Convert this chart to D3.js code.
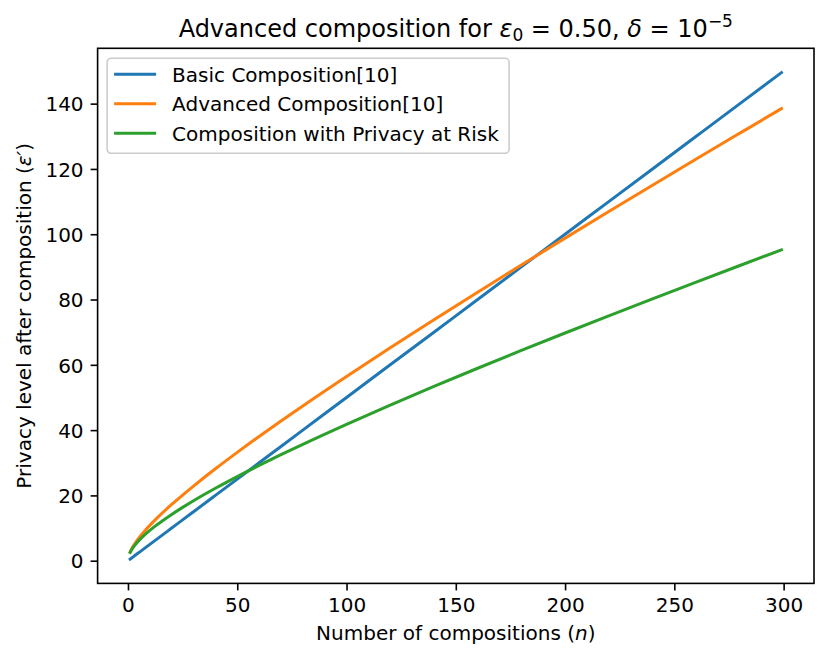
<!DOCTYPE html>
<html>
<head>
<meta charset="utf-8">
<script src="https://cdn.jsdelivr.net/npm/d3@7"></script>
<style>
  body { margin: 0; background: #fff; }
  svg text { font-family: "DejaVu Sans", sans-serif; fill: #000; }
</style>
</head>
<body>
<div id="chart"></div>
<script>
  var compositions = [1, 2, 3, 5, 8, 12, 16, 20, 25, 30, 40, 50, 60, 70, 80, 100,
    120, 140, 160, 180, 200, 220, 240, 260, 280, 299];

  var basicValues = [0.5, 1.0, 1.5, 2.5, 4.0, 6.0, 8.0, 10.0, 12.5, 15.0, 20.0, 25.0, 30.0, 35.0, 40.0, 50.0,
    60.0, 70.0, 80.0, 90.0, 100.0, 110.0, 120.0, 130.0, 140.0, 149.5];

  var advancedValues = [2.72, 4.04, 5.13, 6.99, 9.38, 12.20, 14.79, 17.22, 20.11, 22.87, 28.15, 33.18, 38.05, 42.78, 47.41, 56.43,
    65.21, 73.80, 82.25, 90.58, 98.81, 106.95, 115.02, 123.03, 130.97, 138.48];

  var riskValues = [2.54, 3.70, 4.63, 6.18, 8.13, 10.35, 12.34, 14.19, 16.34, 18.38, 22.19, 25.77, 29.19, 32.47, 35.65, 41.78,
    47.67, 53.38, 58.95, 64.40, 69.75, 75.01, 80.21, 85.34, 90.42, 95.19];

  var seriesNames = ['Basic Composition[10]', 'Advanced Composition[10]', 'Composition with Privacy at Risk'];
  var seriesColors = ['#1f77b4', '#ff7f0e', '#2ca02c'];
  var xTicks = [0, 50, 100, 150, 200, 250, 300];
  var yTicks = [0, 20, 40, 60, 80, 100, 120, 140];

  var WIDTH = 830;
  var HEIGHT = 662;
  var MARGIN = { TOP: 48.3, RIGHT: 16, BOTTOM: 78.6, LEFT: 97.6 };
  var FONT = 20;
  var width = WIDTH - MARGIN.LEFT - MARGIN.RIGHT;
  var height = HEIGHT - MARGIN.TOP - MARGIN.BOTTOM;

  var series = [basicValues, advancedValues, riskValues].map(function(vals, i) {
    return {
      name: seriesNames[i],
      color: seriesColors[i],
      points: compositions.map(function(n, j) { return { x: n, y: vals[j] }; })
    };
  });

  // matplotlib style 5% padding round the data
  var xMin = d3.min(compositions), xMax = d3.max(compositions);
  var xPad = (xMax - xMin) * 0.05;
  var yMin = d3.min(basicValues), yMax = d3.max(basicValues);
  var yPad = (yMax - yMin) * 0.05;

  var x = d3.scaleLinear().domain([xMin - xPad, xMax + xPad]).range([0, width]);
  var y = d3.scaleLinear().domain([yMin - yPad, yMax + yPad]).range([height, 0]);

  var svg = d3.select('#chart').append('svg')
    .attr('width', WIDTH)
    .attr('height', HEIGHT);

  var g = svg.append('g')
    .attr('transform', 'translate(' + MARGIN.LEFT + ',' + MARGIN.TOP + ')');

  var line = d3.line()
    .x(function(d) { return x(d.x); })
    .y(function(d) { return y(d.y); })
    .curve(d3.curveMonotoneX);

  g.selectAll('.series')
    .data(series)
    .enter().append('path')
    .attr('class', 'series')
    .attr('d', function(d) { return line(d.points); })
    .attr('fill', 'none')
    .attr('stroke', function(d) { return d.color; })
    .attr('stroke-width', 3)
    .attr('stroke-linecap', 'square');

  var xAxis = d3.axisBottom(x).tickValues(xTicks).tickSize(7).tickPadding(7);
  var yAxis = d3.axisLeft(y).tickValues(yTicks).tickSize(7).tickPadding(7);

  var gx = g.append('g')
    .attr('transform', 'translate(0,' + height + ')')
    .call(xAxis);
  var gy = g.append('g').call(yAxis);

  [gx, gy].forEach(function(ax) {
    ax.select('.domain').remove();
    ax.selectAll('.tick line').attr('stroke', '#000').attr('stroke-width', 1.6);
    ax.selectAll('.tick text')
      .style('font-family', '"DejaVu Sans", sans-serif')
      .style('font-size', FONT + 'px')
      .attr('fill', '#000');
  });
  gy.selectAll('.tick text').attr('dy', '0.36em');

  // frame
  g.append('rect')
    .attr('width', width)
    .attr('height', height)
    .attr('fill', 'none')
    .attr('stroke', '#000')
    .attr('stroke-width', 1.6);

  // legend
  var legend = g.append('g').attr('transform', 'translate(9.5,10)');
  legend.append('rect')
    .attr('width', 402)
    .attr('height', 95)
    .attr('rx', 4)
    .attr('fill', 'rgba(255,255,255,0.8)')
    .attr('stroke', '#cccccc')
    .attr('stroke-width', 1.6);

  var items = legend.selectAll('.item')
    .data(series)
    .enter().append('g')
    .attr('transform', function(d, i) { return 'translate(0,' + (16 + i * 29.5) + ')'; });
  items.append('line')
    .attr('x1', 7).attr('x2', 49)
    .attr('stroke', function(d) { return d.color; })
    .attr('stroke-width', 3);
  items.append('text')
    .attr('x', 65)
    .attr('dy', '0.36em')
    .style('font-size', FONT + 'px')
    .text(function(d) { return d.name; });

  // title
  var title = svg.append('text')
    .attr('x', MARGIN.LEFT + width / 2)
    .attr('y', 37)
    .attr('text-anchor', 'middle')
    .style('font-size', '24px');
  title.append('tspan').text('Advanced composition for ');
  title.append('tspan').style('font-style', 'italic').text('ε');
  title.append('tspan').attr('dy', 4).style('font-size', '17px').text('0');
  title.append('tspan').attr('dy', -4).text(' = 0.50, ');
  title.append('tspan').style('font-style', 'italic').text('δ');
  title.append('tspan').text(' = 10');
  title.append('tspan').attr('dy', -10).style('font-size', '17px').text('−5');

  // axis labels
  var xLabel = svg.append('text')
    .attr('x', MARGIN.LEFT + width / 2)
    .attr('y', 640)
    .attr('text-anchor', 'middle')
    .style('font-size', FONT + 'px');
  xLabel.append('tspan').text('Number of compositions (');
  xLabel.append('tspan').style('font-style', 'italic').text('n');
  xLabel.append('tspan').text(')');

  var yLabel = svg.append('text')
    .attr('transform', 'translate(31,' + (MARGIN.TOP + height / 2) + ') rotate(-90)')
    .attr('text-anchor', 'middle')
    .style('font-size', FONT + 'px');
  yLabel.append('tspan').text('Privacy level after composition (');
  yLabel.append('tspan').style('font-style', 'italic').text('ε′');
  yLabel.append('tspan').text(')');
</script>
</body>
</html>
